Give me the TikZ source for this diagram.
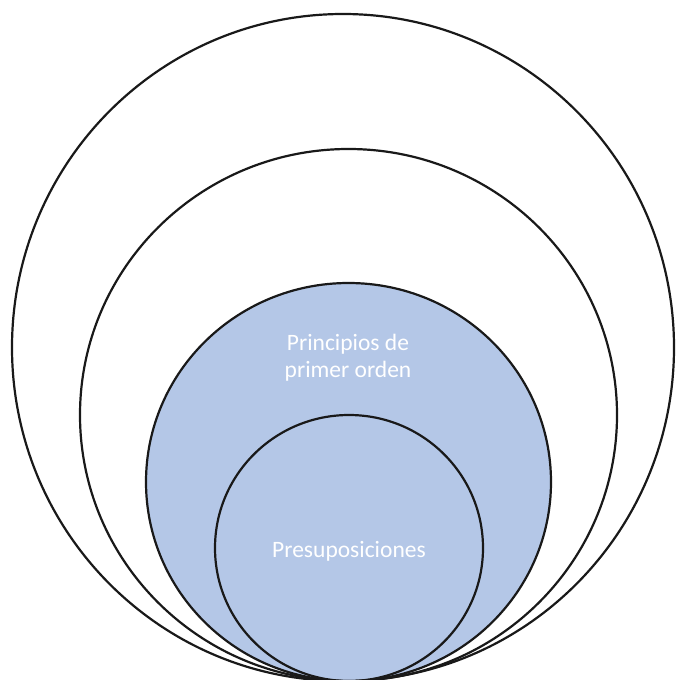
\documentclass[tikz,border=0pt]{standalone}
\usepackage{fontspec}
\setmainfont{Carlito}
\definecolor{fillblue}{HTML}{B4C7E7}
\begin{document}
\begin{tikzpicture}[x=1pt,y=-1pt,
  ring/.style={draw=black!90,line width=2.2pt},
  lbl/.style={text=white,font=\fontsize{23.5}{27}\selectfont,align=center,inner sep=0pt}]
\useasboundingbox (0,0) rectangle (677,680);
\draw[ring] (343,347.5) ellipse [x radius=331,y radius=333.5] coordinate (outer);
\draw[ring] (348.5,415) ellipse [x radius=268.5,y radius=266] coordinate (second);
\draw[ring,fill=fillblue] (348.5,482) ellipse [x radius=202.5,y radius=199] coordinate (third);
\draw[ring] (349,548) ellipse [x radius=134,y radius=133] coordinate (inner);
\node[lbl] (pp) at (348,358) {Principios de\\primer orden};
\node[lbl] (pr) at (349,551) {Presuposiciones};
\end{tikzpicture}
\end{document}
